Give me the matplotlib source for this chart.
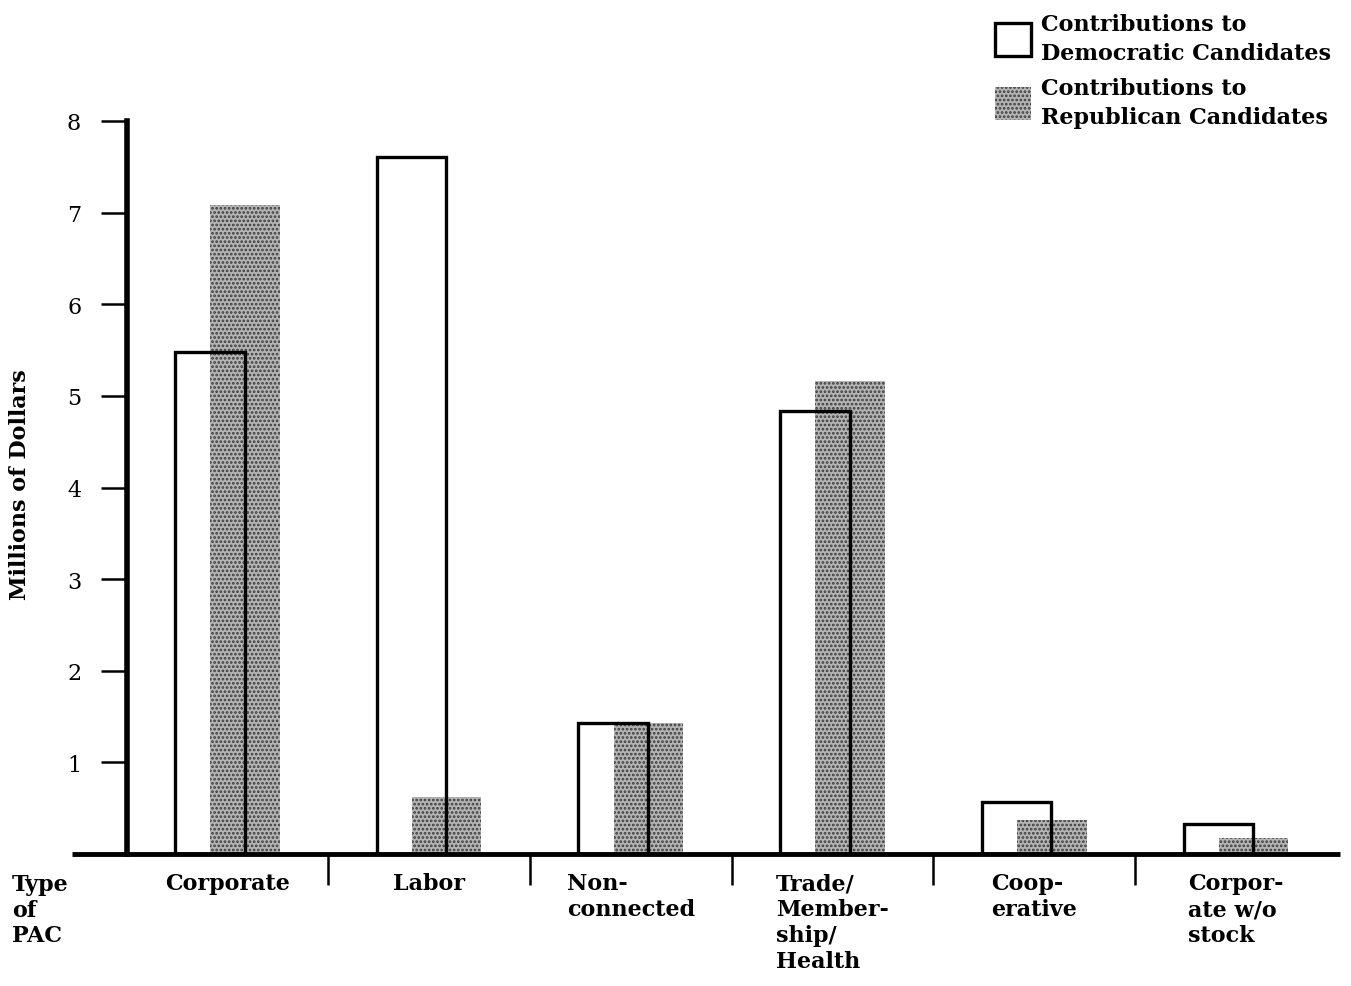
import matplotlib
matplotlib.use("Agg")
import matplotlib.pyplot as plt
import numpy as np

categories = ["Corporate", "Labor", "Non-\nconnected", "Trade/\nMember-\nship/\nHealth",
              "Coop-\nerative", "Corpor-\nate w/o\nstock"]
dem_values = [5.48, 7.61, 1.43, 4.84, 0.57, 0.33]
rep_values = [7.08, 0.62, 1.43, 5.16, 0.37, 0.18]
y_ticks = [1, 2, 3, 4, 5, 6, 7, 8]
dem_label = "Contributions to\nDemocratic Candidates"
rep_label = "Contributions to\nRepublican Candidates"

plt.rcParams['font.family'] = ['DejaVu Serif']
plt.rcParams['hatch.linewidth'] = 1.3

fig = plt.figure(figsize=(13.51, 9.87), dpi=100)
ax = fig.add_axes([127/1351, (987-855)/987, (1340-127)/1351, (855-122)/987])

x = np.arange(len(categories))
w = 0.345
off = 0.087
rep = ax.bar(x + off, rep_values, width=w, facecolor='#b4b4b4', edgecolor='#3c3c3c',
             hatch='....', linewidth=0, zorder=2)
dem = ax.bar(x - off, dem_values, width=w, facecolor='none', edgecolor='black',
             linewidth=2.4, zorder=3)

ax.set_xlim(-0.498, 5.516)
ax.set_ylim(0, 8)

for s in ['top', 'right']:
    ax.spines[s].set_visible(False)
ax.spines['left'].set_linewidth(4)
ax.spines['bottom'].set_visible(False)
ax.plot([-0.045, 1.0], [0, 0], transform=ax.transAxes, color='black', lw=3.5,
        clip_on=False, zorder=4, solid_capstyle='butt')

ax.set_yticks(y_ticks)
ax.set_yticklabels([str(t) for t in y_ticks], fontsize=16)
ax.tick_params(axis='y', length=19, width=1.8, pad=14)

ax.set_xticks(x)
ax.set_xticklabels([])
ax.tick_params(axis='x', which='major', length=0)
ax.set_xticks(x[:-1] + 0.5, minor=True)
ax.tick_params(axis='x', which='minor', length=22, width=1.8, direction='out')

for xi, lab in zip(x, categories):
    ax.text(xi, -0.2, lab, ha='center', va='top', multialignment='left',
            fontsize=16, fontweight='bold', linespacing=1.22)

fig.text(12/1351, 1 - 874/987, "Type\nof\nPAC", ha='left', va='top', fontsize=16,
         fontweight='bold', linespacing=1.22)

fig.text(20/1351, 1 - 485/987, "Millions of Dollars", rotation=90, ha='center',
         va='center', fontsize=16, fontweight='bold')

leg = fig.legend([dem, rep], [dem_label, rep_label], loc='upper left',
                 bbox_to_anchor=(975/1351, 1 + 6/987), frameon=False,
                 prop={'weight': 'bold', 'size': 16},
                 handlelength=1.6, handleheight=1.9, handletextpad=0.45,
                 labelspacing=0.6)
for t in leg.get_texts():
    t.set_linespacing(1.4)

fig.savefig("out.png", dpi=100)
